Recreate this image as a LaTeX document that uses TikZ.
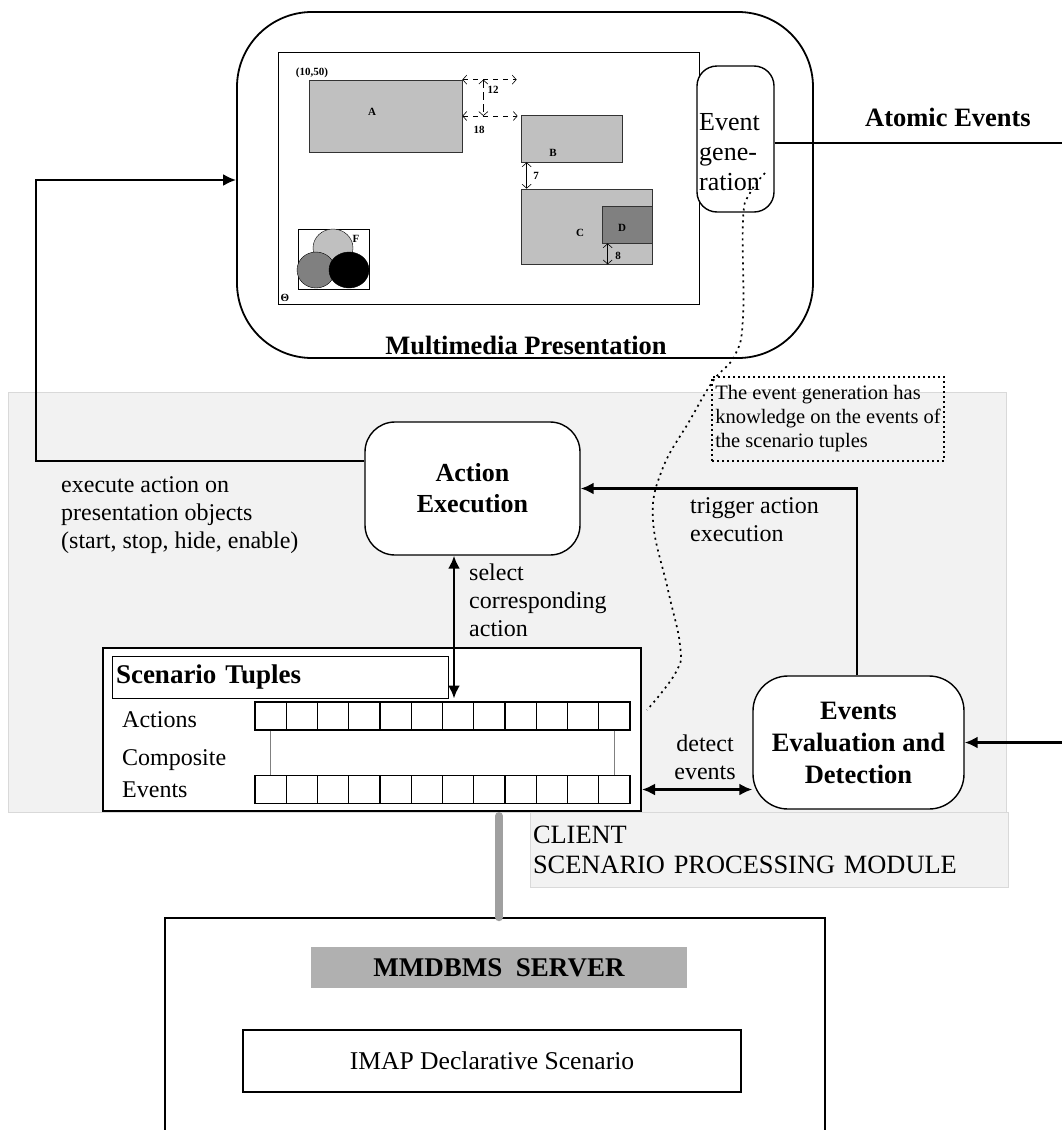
\documentclass[tikz,border=0pt]{standalone}
\usepackage{fontspec}
\setmainfont{Liberation Serif}
\usepackage{tikz}
\usetikzlibrary{calc}
\usetikzlibrary{arrows.meta}
\usetikzlibrary{positioning}
\definecolor{clientbg}{RGB}{242,242,242}
\definecolor{clientln}{RGB}{217,217,217}
\definecolor{objgray}{RGB}{192,192,192}
\definecolor{objdark}{RGB}{128,128,128}
\definecolor{srvgray}{RGB}{176,176,176}
\definecolor{pipegray}{RGB}{160,160,160}
\tikzset{box/.style={draw=black,line width=1.4pt,fill=white,inner sep=0pt},
  rbox/.style={box,rounded corners=#1},
  obj/.style={draw=black!80,line width=0.7pt,fill=objgray,inner sep=0pt},
  lbl/.style={font=\fontsize{11}{13}\selectfont\bfseries,inner sep=0pt},
  txt/.style={font=\fontsize{24}{28}\selectfont,inner sep=0pt,align=left},
  btxt/.style={font=\fontsize{26.5}{31}\selectfont\bfseries,inner sep=0pt,align=center},
  conn/.style={line width=2.4pt,-{Latex[length=13pt,width=12pt]}},
  dconn/.style={line width=2.4pt,{Latex[length=13pt,width=12pt]}-{Latex[length=13pt,width=12pt]}},
  dim/.style={line width=0.6pt,{Straight Barb[length=4pt,width=9pt]}-{Straight Barb[length=4pt,width=9pt]}},
  cell/.style={draw=black,line width=1.3pt,minimum width=31.25pt,minimum height=28pt,inner sep=0pt},
  shade/.style={draw=clientln,fill=clientbg,line width=0.8pt,inner sep=0pt}}

\begin{document}
\begin{tikzpicture}[x=1pt,y=-1pt]
\useasboundingbox (0,0) rectangle (1062,1130);

% client module
\node[shade,minimum width=998pt,minimum height=420pt] (cli) at (507,602) {};
\node[shade,txt,font=\fontsize{26.4}{30}\selectfont,minimum width=478pt,minimum height=75pt,text width=472pt] (clil) at (769,849.5) {CLIENT\\SCENARIO PROCESSING MODULE};

% presentation
\node[rbox=75pt,line width=1.8pt,minimum width=576pt,minimum height=346pt] (pres) at (525,185) {};
\node[box,line width=0.9pt,minimum width=421pt,minimum height=252pt] (scr) at (488.5,178) {};
\node[obj,minimum width=153pt,minimum height=72pt] (A) at (385.5,116) {};
\node[lbl] (la) at (372,112) {A};
\node[obj,minimum width=101pt,minimum height=47pt] (B) at (571.5,138.5) {};
\node[lbl] (lb) at (553,153) {B};
\node[obj,minimum width=131pt,minimum height=75pt] (C) at (586.5,226.5) {};
\node[lbl] (lc) at (580,233) {C};
\node[obj,fill=objdark,minimum width=50pt,minimum height=37pt] (D) at (627,224.5) {};
\node[lbl] (ld) at (622,228) {D};
\node[lbl] (org) at (312,73) {(10,50)};
\draw[dim,dash pattern=on 5pt off 5pt] (A.north east) -- ([xshift=-4pt]A.north east -| B.west);
\draw[dim,dash pattern=on 5pt off 5pt] (A.east) -- ([xshift=-3pt]A.east -| B.west);
\draw[dim,dash pattern=on 8pt off 4pt] ([xshift=21pt]A.north east) -- ([xshift=21pt]A.east);
\node[lbl] (l12) at (493,90) {12};
\node[lbl] (l18) at (479,130) {18};
\draw[dim] ([xshift=6pt]B.south west) -- ([xshift=6pt]B.south west |- C.north);
\node[lbl] (l7) at (536,176) {7};
\draw[dim] ([xshift=6pt]D.south west) -- ([xshift=6pt]D.south west |- C.south);
\node[lbl] (l8) at (618,256) {8};
\node[box,line width=0.7pt,minimum width=71pt,minimum height=60pt] (grp) at (333.5,259) {};
\draw[fill=objgray] (333,248) ellipse [x radius=20,y radius=19];
\draw[fill=objdark] (316,270) ellipse [x radius=19,y radius=18];
\draw[fill=black] (349,270) ellipse [x radius=20,y radius=18];
\node[lbl] (lf) at (356,239) {F};
\node[lbl] (lth) at (285,298) {Θ};
\node[btxt] (prl) at (526,345) {Multimedia Presentation};

\node[rbox=20pt,minimum width=77pt,minimum height=146pt] (eg) at (735.5,139) {};
\node[txt,font=\fontsize{26}{30}\selectfont,anchor=west] (egt) at (699,152) {Event\\gene-\\ration};
\coordinate (aend) at (1062,143);
\draw[line width=2.2pt] ([yshift=-4pt]eg.east) -- (aend);
\node[btxt] (ael) at (948,117) {Atomic Events};

\node[draw,dash pattern=on 2pt off 3pt,line width=1.6pt,minimum width=232pt,minimum height=84pt,align=left,font=\fontsize{20.5}{24}\selectfont,inner sep=0pt] (note) at (828,419) {The event generation has\\knowledge on the events of\\the scenario tuples};
\draw[dash pattern=on 2pt off 4pt,line width=1.7pt] plot[smooth,tension=0.7] coordinates {(765,173) (750,193) (743,220) (743,317) (735,355) (713,381) (690,420) (662,470) (653,520) (668,590) (680,645) (676,672) (647,710)};

% scenario processing
\node[rbox=30pt,btxt,font=\fontsize{26}{31}\selectfont\bfseries,minimum width=215pt,minimum height=133pt] (act) at (472.5,488.5) {Action\\Execution};
\node[rbox=35pt,btxt,font=\fontsize{26.5}{32}\selectfont\bfseries,minimum width=211pt,minimum height=133pt] (eed) at (858.5,742.5) {Events\\Evaluation and\\Detection};

\node[box,line width=2pt,minimum width=538pt,minimum height=163pt] (scen) at (372,729.5) {};
\node[box,line width=1pt,minimum width=336pt,minimum height=42pt,text width=328pt,align=left,font=\fontsize{27}{30}\selectfont\bfseries] (ttl) at (280,677) {Scenario Tuples};
\foreach \i in {0,...,11}
 {
 \pgfmathsetmacro{\x}{270.625+31.25*\i}
 \node[cell] (a\i) at (\x,716) {};
 \node[cell] (e\i) at (\x,789.5) {};
 }
\draw[gray,line width=0.8pt] (a0.south) -- (e0.north);
\draw[gray,line width=0.8pt] (a11.south) -- (e11.north);
\node[txt,anchor=west] (lact) at (122,720) {Actions};
\node[txt,anchor=west] (lcomp) at (122,760) {Composite};
\node[txt,anchor=west] (levt) at (122,790) {Events};

\node[txt,anchor=west] (lexe) at (61,515) {execute action on\\presentation objects\\(start, stop, hide, enable)};
\node[txt,anchor=west] (lsel) at (469,600) {select\\corresponding\\action};
\node[txt,anchor=west] (ltrg) at (690,520) {trigger action\\execution};
\node[txt,align=center] (ldet) at (705,757) {detect\\events};

\draw[conn] ([yshift=27.5pt]act.west) -| ([xshift=-200pt,yshift=5pt]pres.west) -- ([yshift=5pt]pres.west);
\draw[dconn] ([xshift=-18.5pt]act.south) -- ([xshift=-18.5pt]act.south |- ttl.south);
\draw[conn] ([xshift=-1.5pt]eed.north) |- (act.east);
\draw[dconn] (scen.east |- e11.center) -- (eed.west |- e11.center);
\coordinate (ein) at (1062,742.5);
\draw[conn] (ein) -- (eed.east);

% server
\node[box,line width=1.6pt,minimum width=660pt,minimum height=264pt] (srv) at (495,1050) {};
\draw[pipegray,line width=8pt,line cap=round] ([xshift=4pt,yshift=-4pt]srv.north |- scen.south) -- ([xshift=4pt]srv.north);
\node[fill=srvgray,minimum width=376pt,minimum height=41pt,inner sep=0pt,font=\fontsize{27}{30}\selectfont\bfseries] (mms) at (499,967.5) {MMDBMS\ \ SERVER};
\node[box,txt,font=\fontsize{25.6}{30}\selectfont,minimum width=498pt,minimum height=62pt] (imap) at (492,1061) {IMAP Declarative Scenario};

\end{tikzpicture}
\end{document}
